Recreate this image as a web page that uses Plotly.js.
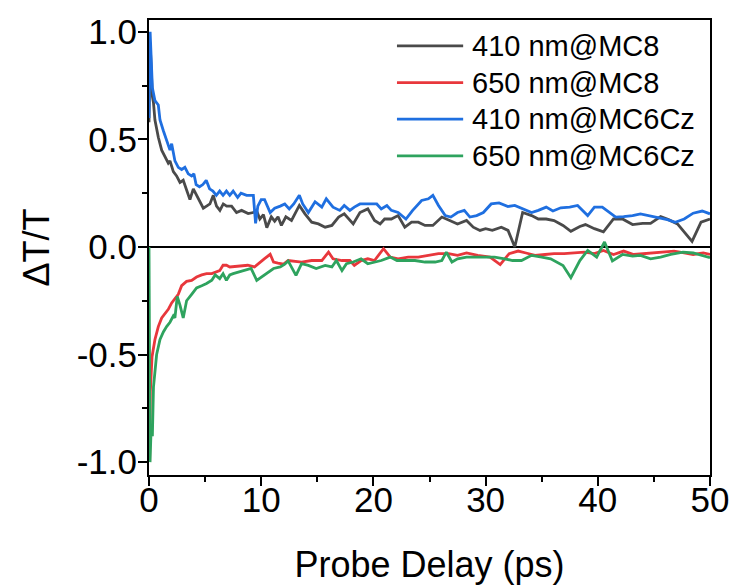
<!DOCTYPE html>
<html>
<head>
<meta charset="utf-8">
<script src="https://cdn.plot.ly/plotly-3.0.1.min.js"></script>
<style>html,body{margin:0;padding:0;background:#fff;}#chart{width:735px;height:588px;}</style>
</head>
<body>
<div id="chart"></div>
<script>
// ---- data ----
const seriesNames = ['410 nm@MC8', '650 nm@MC8', '410 nm@MC6Cz', '650 nm@MC6Cz'];

const t410MC8 = [0, 0.1, 0.3, 0.4, 0.53, 0.83, 1.13, 1.42, 1.72, 1.87, 2.17, 2.46, 2.76, 3.05, 3.35, 3.65, 3.95, 4.24, 4.54, 4.84, 5.13, 5.43, 5.73, 6.02, 6.32, 6.62, 6.92, 7.36, 7.8, 8.25, 8.84, 9.29, 9.58, 9.88, 10.2, 10.5, 10.9, 11.2, 11.5, 11.8, 12.2, 12.7, 13.4, 13.9, 14.5, 15.1, 15.7, 16.3, 16.9, 17.4, 18.2, 18.8, 19.5, 20.1, 20.6, 21.0, 21.6, 22.2, 22.8, 23.4, 24.0, 24.6, 25.3, 26.1, 26.8, 27.5, 28.3, 28.9, 29.5, 30.0, 30.6, 31.4, 32.0, 32.6, 33.3, 34.1, 34.7, 35.4, 36.1, 36.9, 37.6, 38.4, 38.9, 39.7, 40.5, 41.4, 42.2, 43.1, 44.0, 44.7, 45.6, 46.3, 47.1, 47.8, 48.4, 49.2, 50.0];
const dT410MC8 = [0.58, 0.95, 0.70, 0.67, 0.59, 0.51, 0.45, 0.42, 0.39, 0.40, 0.35, 0.33, 0.30, 0.31, 0.26, 0.22, 0.27, 0.24, 0.21, 0.18, 0.19, 0.20, 0.24, 0.19, 0.17, 0.20, 0.19, 0.19, 0.16, 0.17, 0.155, 0.16, 0.17, 0.13, 0.15, 0.09, 0.14, 0.12, 0.14, 0.10, 0.14, 0.123, 0.193, 0.154, 0.115, 0.107, 0.092, 0.10, 0.139, 0.154, 0.107, 0.16, 0.177, 0.123, 0.107, 0.13, 0.13, 0.146, 0.092, 0.115, 0.115, 0.10, 0.10, 0.139, 0.123, 0.107, 0.123, 0.092, 0.077, 0.085, 0.077, 0.092, 0.077, 0.0, 0.16, 0.146, 0.13, 0.13, 0.123, 0.10, 0.073, 0.095, 0.104, 0.085, 0.07, 0.13, 0.13, 0.104, 0.11, 0.11, 0.141, 0.127, 0.107, 0.061, 0.026, 0.115, 0.13];

const t650MC8 = [0, 0.06, 0.12, 0.27, 0.53, 0.83, 1.13, 1.42, 1.72, 2.02, 2.31, 2.61, 2.91, 3.35, 3.8, 4.24, 4.7, 5.13, 5.6, 6.0, 6.3, 6.6, 6.9, 7.2, 7.7, 8.2, 8.8, 9.4, 9.9, 10.3, 10.8, 11.1, 11.5, 12.0, 12.4, 13.0, 13.6, 14.5, 15.4, 16.0, 16.4, 17.2, 17.9, 18.3, 18.9, 19.5, 20.1, 20.9, 21.5, 22.2, 23.1, 24.0, 24.9, 25.8, 26.7, 27.5, 28.3, 29.3, 30.4, 31.3, 32.1, 32.9, 33.6, 34.4, 35.3, 36.1, 37.0, 37.9, 38.8, 39.7, 40.5, 41.4, 42.3, 43.2, 44.1, 45.0, 45.9, 46.8, 47.7, 48.5, 49.4, 50.0];
const dT650MC8 = [-0.85, -1.0, -0.67, -0.51, -0.43, -0.37, -0.33, -0.31, -0.29, -0.26, -0.24, -0.22, -0.18, -0.16, -0.155, -0.14, -0.13, -0.124, -0.124, -0.116, -0.11, -0.085, -0.085, -0.093, -0.09, -0.09, -0.085, -0.093, -0.07, -0.054, -0.034, -0.07, -0.075, -0.08, -0.063, -0.068, -0.07, -0.063, -0.063, -0.024, -0.055, -0.063, -0.063, -0.086, -0.063, -0.055, -0.063, -0.008, -0.047, -0.055, -0.047, -0.047, -0.039, -0.031, -0.031, -0.039, -0.028, -0.039, -0.047, -0.082, -0.031, -0.019, -0.028, -0.039, -0.035, -0.031, -0.031, -0.028, -0.024, -0.031, -0.016, -0.035, -0.019, -0.035, -0.031, -0.028, -0.024, -0.019, -0.028, -0.035, -0.028, -0.035];

const t410MC6Cz = [0, 0.1, 0.3, 0.53, 0.83, 0.98, 1.28, 1.57, 1.87, 2.02, 2.31, 2.61, 2.91, 3.2, 3.5, 3.8, 4.0, 4.2, 4.5, 4.8, 5.1, 5.4, 5.7, 6.0, 6.3, 6.6, 6.9, 7.2, 7.5, 7.9, 8.2, 8.7, 9.3, 9.5, 9.7, 10.0, 10.3, 10.8, 11.2, 11.7, 12.1, 12.5, 12.9, 13.4, 13.7, 14.2, 14.8, 15.4, 15.8, 16.4, 17.0, 17.4, 17.9, 18.3, 18.8, 19.5, 20.3, 20.7, 21.2, 21.6, 22.2, 22.9, 23.5, 24.3, 24.9, 25.3, 25.8, 26.4, 26.9, 27.5, 28.1, 28.6, 29.2, 29.8, 30.5, 31.2, 32.0, 32.6, 33.3, 34.1, 34.7, 35.4, 36.0, 36.7, 37.5, 38.2, 39.1, 39.7, 40.4, 41.0, 41.6, 42.3, 43.1, 43.8, 44.6, 45.3, 46.2, 46.9, 47.7, 48.5, 49.3, 50.0];
const dT410MC6Cz = [0.60, 1.0, 0.74, 0.68, 0.66, 0.59, 0.54, 0.50, 0.45, 0.48, 0.40, 0.37, 0.36, 0.37, 0.34, 0.33, 0.34, 0.29, 0.28, 0.29, 0.31, 0.27, 0.26, 0.24, 0.26, 0.24, 0.26, 0.24, 0.26, 0.23, 0.25, 0.24, 0.24, 0.11, 0.19, 0.22, 0.22, 0.16, 0.18, 0.19, 0.20, 0.177, 0.20, 0.24, 0.20, 0.16, 0.21, 0.185, 0.224, 0.185, 0.17, 0.193, 0.17, 0.185, 0.20, 0.20, 0.20, 0.177, 0.193, 0.17, 0.16, 0.13, 0.17, 0.216, 0.224, 0.24, 0.193, 0.146, 0.139, 0.16, 0.17, 0.139, 0.146, 0.16, 0.20, 0.205, 0.188, 0.193, 0.177, 0.16, 0.17, 0.185, 0.167, 0.182, 0.185, 0.193, 0.146, 0.185, 0.185, 0.16, 0.139, 0.141, 0.146, 0.154, 0.146, 0.139, 0.127, 0.115, 0.13, 0.157, 0.167, 0.154];

const t650MC6Cz = [0, 0.05, 0.09, 0.2, 0.3, 0.4, 0.53, 0.68, 0.98, 1.28, 1.57, 1.87, 2.17, 2.31, 2.52, 2.76, 3.05, 3.35, 3.8, 4.24, 4.7, 5.13, 5.6, 5.9, 6.3, 6.6, 6.9, 7.2, 7.5, 8.0, 8.5, 9.1, 9.6, 10.0, 10.5, 11.1, 11.7, 12.1, 12.4, 13.1, 13.6, 14.2, 14.9, 15.7, 16.3, 16.7, 17.2, 17.6, 18.2, 18.9, 19.5, 20.1, 20.7, 21.5, 22.1, 22.8, 23.7, 24.6, 25.5, 26.1, 26.5, 27.0, 27.5, 28.3, 29.2, 30.2, 30.8, 31.7, 32.4, 33.2, 34.1, 35.0, 35.8, 36.9, 37.6, 38.4, 39.1, 39.9, 40.6, 41.3, 42.2, 43.1, 43.8, 44.7, 45.6, 46.5, 47.6, 48.5, 49.3, 50.0];
const dT650MC6Cz = [0.0, -1.0, -1.0, -0.83, -0.88, -0.65, -0.59, -0.50, -0.43, -0.395, -0.37, -0.35, -0.32, -0.33, -0.23, -0.27, -0.33, -0.25, -0.22, -0.19, -0.18, -0.17, -0.155, -0.13, -0.147, -0.124, -0.155, -0.13, -0.124, -0.116, -0.11, -0.10, -0.155, -0.14, -0.124, -0.10, -0.093, -0.08, -0.065, -0.132, -0.078, -0.086, -0.10, -0.086, -0.093, -0.063, -0.11, -0.078, -0.07, -0.055, -0.078, -0.07, -0.063, -0.047, -0.063, -0.063, -0.063, -0.07, -0.07, -0.063, -0.024, -0.07, -0.055, -0.047, -0.047, -0.047, -0.047, -0.055, -0.063, -0.063, -0.039, -0.047, -0.055, -0.086, -0.143, -0.063, -0.016, -0.047, 0.023, -0.065, -0.035, -0.043, -0.039, -0.055, -0.047, -0.035, -0.024, -0.028, -0.039, -0.05];

const xTickVals = [0, 10, 20, 30, 40, 50];
const yTickVals = [-1.0, -0.5, 0.0, 0.5, 1.0];
const yTickText = ['-1.0', '-0.5', '0.0', '0.5', '1.0'];
const xTitle = 'Probe Delay (ps)';
const yTitle = 'ΔT/T';

// ---- styles ----
const colors = ['#4a4a4a', '#e8373c', '#1f6fe0', '#2ea35e'];
const xs = [t410MC8, t650MC8, t410MC6Cz, t650MC6Cz];
const ys = [dT410MC8, dT650MC8, dT410MC6Cz, dT650MC6Cz];
const FONT = 'Liberation Sans, Arial, sans-serif';

const traces = seriesNames.map((n, i) => ({
  type: 'scatter', mode: 'lines', name: n,
  x: xs[i], y: ys[i],
  line: {color: colors[i], width: 2.8},
  showlegend: false
}));

// legend drawn as key lines + labels inside the plot box (paper coords)
const legX0 = 0.442, legX1 = 0.560, legTextX = 0.573, legY0 = 0.943, legDy = 0.0805;
const shapes = seriesNames.map((n, i) => ({
  type: 'line', xref: 'paper', yref: 'paper',
  x0: legX0, x1: legX1, y0: legY0 - i * legDy, y1: legY0 - i * legDy,
  line: {color: colors[i], width: 2.8}
}));
const annotations = seriesNames.map((n, i) => ({
  xref: 'paper', yref: 'paper', x: legTextX, y: legY0 - i * legDy,
  xanchor: 'left', yanchor: 'middle', showarrow: false, text: n,
  font: {family: FONT, size: 29, color: '#000'}
}));

const layout = {
  width: 735, height: 588,
  margin: {l: 149, r: 25, t: 20, b: 113},
  paper_bgcolor: '#fff', plot_bgcolor: '#fff',
  font: {family: FONT, color: '#000'},
  showlegend: false,
  shapes: shapes,
  annotations: annotations,
  xaxis: {
    range: [0, 50], tickvals: xTickVals, ticktext: xTickVals.map(String),
    showgrid: false, zeroline: false,
    showline: true, linecolor: '#000', linewidth: 2, mirror: true,
    ticks: 'outside', ticklen: 9, tickwidth: 2, tickcolor: '#000',
    minor: {dtick: 5, ticks: 'outside', ticklen: 5, tickwidth: 2, tickcolor: '#000', showgrid: false},
    tickfont: {family: FONT, size: 35, color: '#000'},
    ticklabelstandoff: -16,
    title: {text: xTitle, font: {family: FONT, size: 36, color: '#000'}, standoff: 34}
  },
  yaxis: {
    range: [-1.06, 1.055], tickvals: yTickVals, ticktext: yTickText,
    showgrid: false, zeroline: true, zerolinecolor: '#000', zerolinewidth: 2,
    showline: true, linecolor: '#000', linewidth: 2, mirror: true,
    ticks: 'outside', ticklen: 9, tickwidth: 2, tickcolor: '#000',
    minor: {dtick: 0.25, ticks: 'outside', ticklen: 5, tickwidth: 2, tickcolor: '#000', showgrid: false},
    tickfont: {family: FONT, size: 35, color: '#000'},
    ticklabelstandoff: -6,
    title: {text: yTitle, font: {family: FONT, size: 36, color: '#000'}, standoff: 16}
  }
};

Plotly.newPlot('chart', traces, layout, {displayModeBar: false, staticPlot: true});
</script>
</body>
</html>
